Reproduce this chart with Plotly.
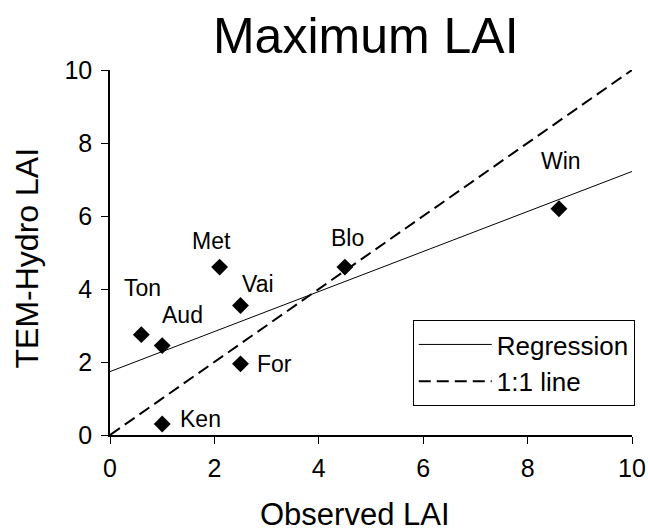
import numpy as np
import plotly.graph_objects as go

# Data
sites = ["Ton", "Aud", "Met", "Vai", "For", "Ken", "Blo", "Win"]
observed = [0.6, 1.0, 2.1, 2.5, 2.5, 1.0, 4.5, 8.6]
modeled = [2.75, 2.45, 4.6, 3.55, 1.95, 0.3, 4.6, 6.2]
axis_range = [0, 10]
tick_vals = [0, 2, 4, 6, 8, 10]

# label offsets in pixels (style/position, not data)
label_offsets = {
    "Ton": (1, 47), "Aud": (20, 31), "Met": (-8, 26), "Vai": (17, 21),
    "For": (34, 0), "Ken": (38, 5), "Blo": (3, 29), "Win": (2, 48),
}

FONT = "Liberation Sans, Arial, Helvetica, sans-serif"

slope, intercept = np.polyfit(observed, modeled, 1)
reg_x = np.array(axis_range, dtype=float)
reg_y = intercept + slope * reg_x

fig = go.Figure()
fig.add_trace(go.Scatter(
    x=observed, y=modeled, mode="markers",
    marker=dict(symbol="diamond", size=13, color="black"),
    showlegend=False, hoverinfo="skip"))
fig.add_trace(go.Scatter(
    x=reg_x, y=reg_y, mode="lines", name="Regression",
    line=dict(color="black", width=1), hoverinfo="skip"))
fig.add_trace(go.Scatter(
    x=axis_range, y=axis_range, mode="lines", name="1:1 line",
    line=dict(color="black", width=2, dash="12px,6px"), hoverinfo="skip"))

for s, xo, yo in zip(sites, observed, modeled):
    dx, dy = label_offsets[s]
    fig.add_annotation(x=xo, y=yo, xref="x", yref="y", text=s,
                       showarrow=False, xshift=dx, yshift=dy,
                       font=dict(family=FONT, size=23, color="black"))

# axis titles as annotations for exact placement
fig.add_annotation(text="Observed LAI", xref="paper", yref="paper",
                   x=0.47, y=-0.219, xanchor="center", yanchor="middle",
                   showarrow=False, font=dict(family=FONT, size=31, color="black"))
fig.add_annotation(text="TEM-Hydro LAI", xref="paper", yref="paper",
                   x=-0.16, y=0.485, xanchor="center", yanchor="middle",
                   textangle=-90, showarrow=False,
                   font=dict(family=FONT, size=32, color="black"))

fig.update_layout(
    width=648, height=531,
    margin=dict(l=110, r=16, t=70, b=96),
    paper_bgcolor="white", plot_bgcolor="white",
    font=dict(family=FONT, color="black"),
    title=dict(text="Maximum LAI", x=0.49, xanchor="center",
               y=0.933, yanchor="middle", xref="paper",
               font=dict(family=FONT, size=50, color="black")),
    legend=dict(x=0.58, y=0.315, xanchor="left", yanchor="top",
                bordercolor="black", borderwidth=1, bgcolor="white",
                font=dict(family=FONT, size=26, color="black"),
                itemwidth=73, tracegroupgap=0),
    showlegend=True,
)
fig.update_xaxes(range=axis_range, tickvals=tick_vals, ticks="outside",
                 ticklen=7, tickcolor="black", showline=True, linecolor="black",
                 linewidth=1.5, showgrid=False, zeroline=False, automargin=False,
                 ticklabelstandoff=3,
                 tickfont=dict(family=FONT, size=25, color="black"))
fig.update_yaxes(range=axis_range, tickvals=tick_vals, ticks="outside",
                 ticklen=7, tickcolor="black", showline=True, linecolor="black",
                 linewidth=1.5, showgrid=False, zeroline=False, automargin=False,
                 ticklabelstandoff=4,
                 tickfont=dict(family=FONT, size=25, color="black"))

# remove the default page margin so the figure fills the window exactly
fig.write_html("out.html",
               config={"displayModeBar": False},
               post_script="document.body.style.margin='0';document.body.style.overflow='hidden';")
